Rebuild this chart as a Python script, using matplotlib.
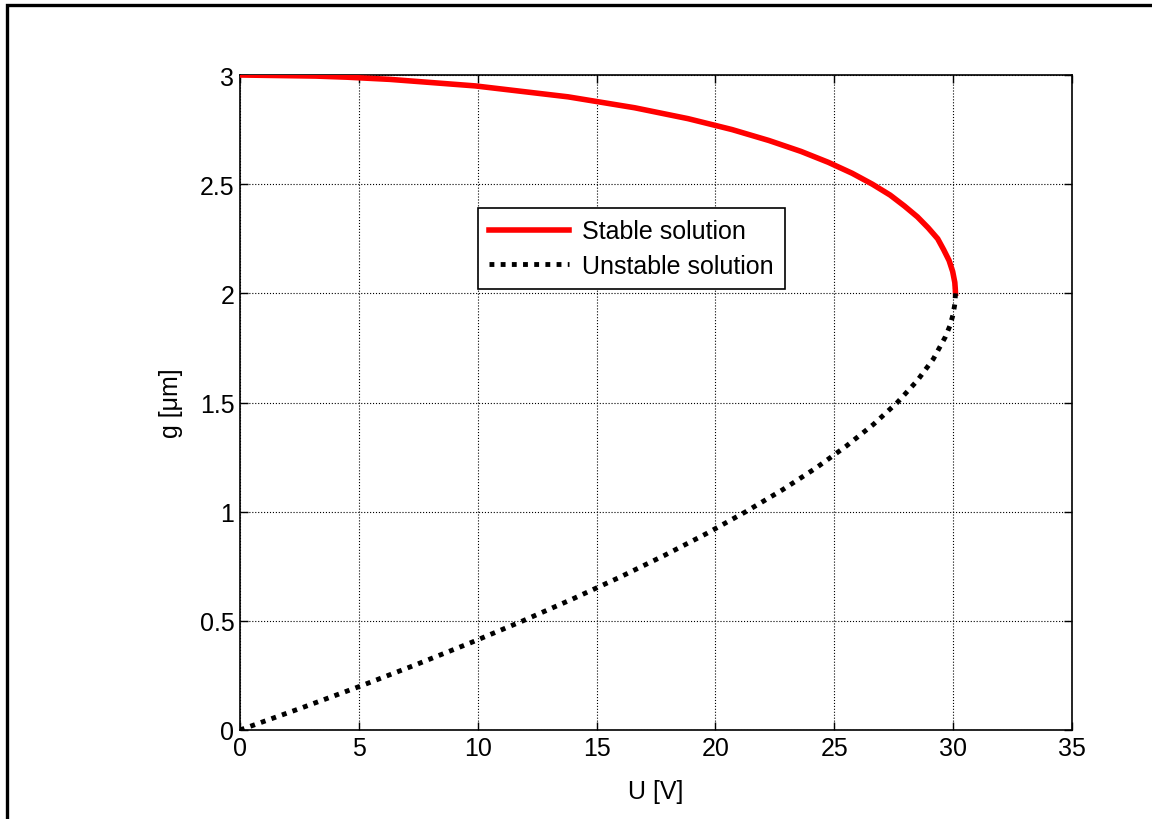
import matplotlib
matplotlib.use('Agg')
import matplotlib.pyplot as plt
from matplotlib.patches import Rectangle

plt.rcParams['font.family'] = ['Liberation Sans', 'DejaVu Sans']

# stable branch (upper)
stable_u = [0.0, 3.2, 4.5, 6.3, 9.9, 13.8, 16.6, 18.85, 20.7, 22.25, 23.6, 24.75, 25.75, 26.6,
            27.35, 27.95, 28.5, 28.95, 29.35, 29.6, 29.83, 29.98, 30.07, 30.09, 30.1]
stable_g = [3.0, 2.995, 2.99, 2.98, 2.95, 2.9, 2.85, 2.8, 2.75, 2.7, 2.65, 2.6, 2.55, 2.5,
            2.45, 2.4, 2.35, 2.3, 2.25, 2.2, 2.15, 2.1, 2.05, 2.02, 2.0]

# unstable branch (lower)
unstable_u = [30.1, 30.07, 29.99, 29.86, 29.67, 29.17, 28.49, 27.65, 26.65, 25.5, 24.23, 22.82, 21.28,
              19.63, 17.86, 15.98, 13.99, 11.9, 9.71, 7.42, 5.04, 2.56, 0.0]
unstable_g = [2.0, 1.95, 1.9, 1.85, 1.8, 1.7, 1.6, 1.5, 1.4, 1.3, 1.2, 1.1, 1.0,
              0.9, 0.8, 0.7, 0.6, 0.5, 0.4, 0.3, 0.2, 0.1, 0.0]

xticks = [0, 5, 10, 15, 20, 25, 30, 35]
yticks = [0, 0.5, 1, 1.5, 2, 2.5, 3]
ytick_labels = ['0', '0.5', '1', '1.5', '2', '2.5', '3']

fig = plt.figure(figsize=(11.52, 8.2), dpi=100)
fig.patch.set_facecolor('white')
# outer frame (only top/left visible in the original)
fig.patches.append(Rectangle((7 / 1152, -0.05), 1.1, 1 - 6 / 820 + 0.05,
                             transform=fig.transFigure, fill=False,
                             edgecolor='black', linewidth=2.4))

ax = fig.add_axes([240 / 1152, 1 - 731 / 820, (1072 - 240) / 1152, (731 - 76) / 820])

ax.plot(stable_u, stable_g, color='red', linewidth=4, label='Stable solution', zorder=3)
ax.plot(unstable_u, unstable_g, color='black', linewidth=3.5, linestyle=(0, (1, 1.3)),
        label='Unstable solution', zorder=3)

ax.set_xlim(0, 35)
ax.set_ylim(0, 3)
ax.set_xticks(xticks)
ax.set_yticks(yticks)
ax.set_yticklabels(ytick_labels)
ax.tick_params(direction='in', top=True, right=True, labelsize=18, length=6, width=1, pad=4)
ax.grid(True, color='black', linestyle=':', linewidth=0.8)
for s in ax.spines.values():
    s.set_linewidth(1.2)

ax.set_xlabel('U [V]', fontsize=18, labelpad=14)
ax.set_ylabel('g [μm]', fontsize=18, labelpad=12)

leg = ax.legend(loc='upper left', bbox_to_anchor=((478 - 240) / 832, 1 - (209 - 76) / 655),
                fontsize=18, fancybox=False, framealpha=1, edgecolor='black',
                handlelength=3.2, handletextpad=0.5, borderpad=0.45, labelspacing=0.42,
                borderaxespad=0)
leg.get_frame().set_linewidth(1.2)

fig.savefig('out.png', dpi=100)
